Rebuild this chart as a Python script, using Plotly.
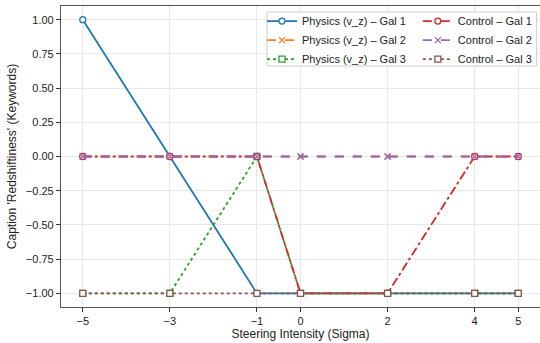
import plotly.graph_objects as go

sigma = [-5, -3, -1, 0, 2, 4, 5]
phys_gal1 = [1, 0, -1, -1, -1, -1, -1]
phys_gal2 = [0, 0, 0, 0, 0, 0, 0]
phys_gal3 = [-1, -1, 0, -1, -1, -1, -1]
ctrl_gal1 = [0, 0, 0, -1, -1, 0, 0]
ctrl_gal2 = [0, 0, 0, 0, 0, 0, 0]
ctrl_gal3 = [-1, -1, -1, -1, -1, -1, -1]
y_ticks = [-1.0, -0.75, -0.5, -0.25, 0.0, 0.25, 0.5, 0.75, 1.0]

series = [
    ("Physics (v_z) – Gal 1", phys_gal1, "#1f77b4", "solid", "circle", "legend"),
    ("Physics (v_z) – Gal 2", phys_gal2, "#ff7f0e", "dash", "x-thin", "legend"),
    ("Physics (v_z) – Gal 3", phys_gal3, "#2ca02c", "dot", "square", "legend"),
    ("Control – Gal 1", ctrl_gal1, "#d62728", "dashdot", "circle", "legend2"),
    ("Control – Gal 2", ctrl_gal2, "#9467bd", "dash", "x-thin", "legend2"),
    ("Control – Gal 3", ctrl_gal3, "#8c564b", "dot", "square", "legend2"),
]

fig = go.Figure()
for name, vals, color, dash, sym, leg in series:
    if sym == "x-thin":
        marker = dict(symbol="x-thin", size=6, line=dict(color=color, width=1.3), color=color)
    else:
        marker = dict(symbol=sym, size=6, color="white", line=dict(color=color, width=1.3))
    fig.add_trace(go.Scatter(
        x=sigma, y=vals, name=name, mode="lines+markers",
        line=dict(color=color, width=1.8, dash=dash),
        marker=marker, legend=leg,
    ))

axis_common = dict(
    showline=True, linecolor="#555555", linewidth=1.2, mirror=True,
    showgrid=True, gridcolor="#e8e8e8", gridwidth=1,
    ticks="outside", ticklen=4, tickcolor="#333333",
    tickfont=dict(family="Liberation Sans, Arial, sans-serif", size=11, color="#222222"),
    zeroline=False, automargin=False,
)

fig.update_layout(
    width=540, height=343,
    margin=dict(l=61, r=0, t=6, b=36),
    paper_bgcolor="white", plot_bgcolor="white",
    font=dict(family="Liberation Sans, Arial, sans-serif", size=12, color="#222222"),
    xaxis=dict(range=[-5.5, 5.5], tickvals=sigma,
               title=dict(text="Steering Intensity (Sigma)", standoff=3,
                          font=dict(size=12)), **axis_common),
    yaxis=dict(range=[-1.1, 1.1], tickvals=y_ticks, tickformat=".2f",
               title=dict(text="Caption 'Redshiftiness' (Keywords)", standoff=6,
                          font=dict(size=12)), **axis_common),
    legend=dict(x=0.4196, y=0.998, xanchor="left", yanchor="top",
                bgcolor="rgba(0,0,0,0)", borderwidth=0,
                font=dict(size=11), itemwidth=30, tracegroupgap=0),
    legend2=dict(x=0.745, y=0.998, xanchor="left", yanchor="top",
                 bgcolor="rgba(0,0,0,0)", borderwidth=0,
                 font=dict(size=11), itemwidth=30, tracegroupgap=0),
    shapes=[dict(type="rect", xref="paper", yref="paper",
                 x0=0.43, x1=0.993, y0=0.8007, y1=0.98,
                 line=dict(color="#cccccc", width=1),
                 fillcolor="rgba(255,255,255,0.85)", layer="above")],
)

fig.write_html("out.html", config={"displayModeBar": False},
               post_script="document.body.style.margin='0';")
